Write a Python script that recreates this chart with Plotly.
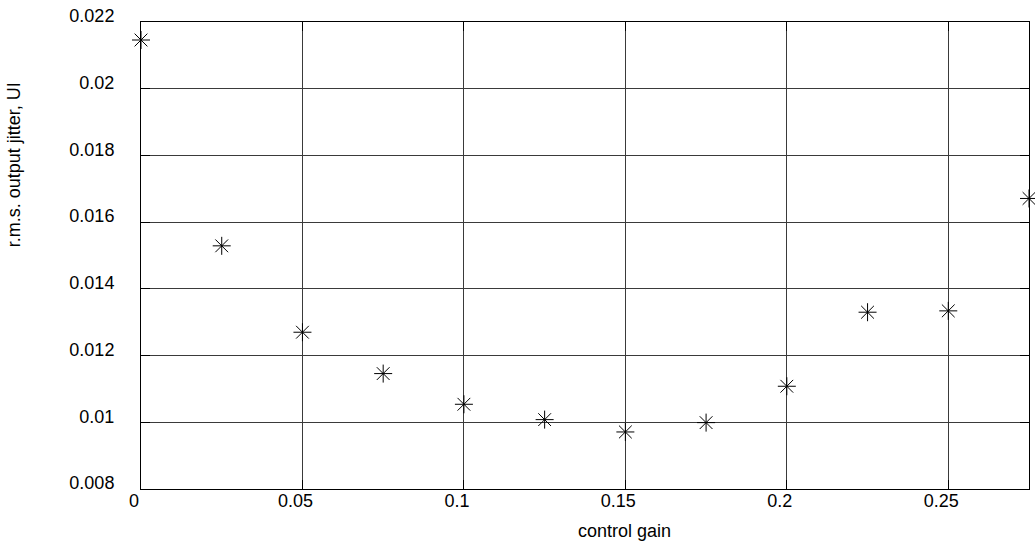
import plotly.graph_objects as go

control_gain = [0.0, 0.025, 0.05, 0.075, 0.1, 0.125, 0.15, 0.175, 0.2, 0.225, 0.25, 0.275]
rms_jitter = [0.02146, 0.01529, 0.0127, 0.01146, 0.01054, 0.01008, 0.00971, 0.00999, 0.01108, 0.0133, 0.01334, 0.01671]

x_ticks = [0, 0.05, 0.1, 0.15, 0.2, 0.25]
x_tick_labels = ["0", "0.05", "0.1", "0.15", "0.2", "0.25"]
y_ticks = [0.008, 0.01, 0.012, 0.014, 0.016, 0.018, 0.02, 0.022]
y_tick_labels = ["0.008", "0.01", "0.012", "0.014", "0.016", "0.018", "0.02", "0.022"]

x_title = "control gain"
y_title = "r.m.s. output jitter, UI"

fig = go.Figure()
fig.add_trace(go.Scatter(
    x=control_gain, y=rms_jitter, mode="markers",
    marker=dict(symbol="asterisk-open", size=15, color="black",
                line=dict(color="black", width=1)),
    cliponaxis=False, showlegend=False,
))

font = dict(family="Liberation Sans, Arial, sans-serif", size=18, color="black")
fig.update_layout(
    width=1035, height=545,
    margin=dict(l=141, r=6, t=22, b=56),
    paper_bgcolor="white", plot_bgcolor="white",
    font=font,
    xaxis=dict(
        range=[0, 0.275], tickvals=x_ticks, ticktext=x_tick_labels,
        showgrid=True, gridcolor="#3a3a3a", gridwidth=1,
        showline=True, linecolor="black", linewidth=1, mirror="ticks",
        ticks="inside", ticklen=9, tickcolor="black",
        zeroline=False, ticklabelstandoff=-5, ticklabelshift=-7,
    ),
    yaxis=dict(
        range=[0.008, 0.022], tickvals=y_ticks, ticktext=y_tick_labels,
        showgrid=True, gridcolor="#3a3a3a", gridwidth=1,
        showline=True, linecolor="black", linewidth=1, mirror="ticks",
        ticks="inside", ticklen=9, tickcolor="black",
        zeroline=False, ticklabelstandoff=22, ticklabelshift=-6,
    ),
    annotations=[
        dict(text=x_title, xref="paper", yref="paper", x=0.545, y=-0.0906,
             xanchor="center", yanchor="middle", showarrow=False, font=font),
        dict(text=y_title, xref="paper", yref="paper", x=-0.142, y=0.695,
             xanchor="center", yanchor="middle", textangle=-90,
             showarrow=False, font=font),
    ],
)

fig.write_html("out.html")
